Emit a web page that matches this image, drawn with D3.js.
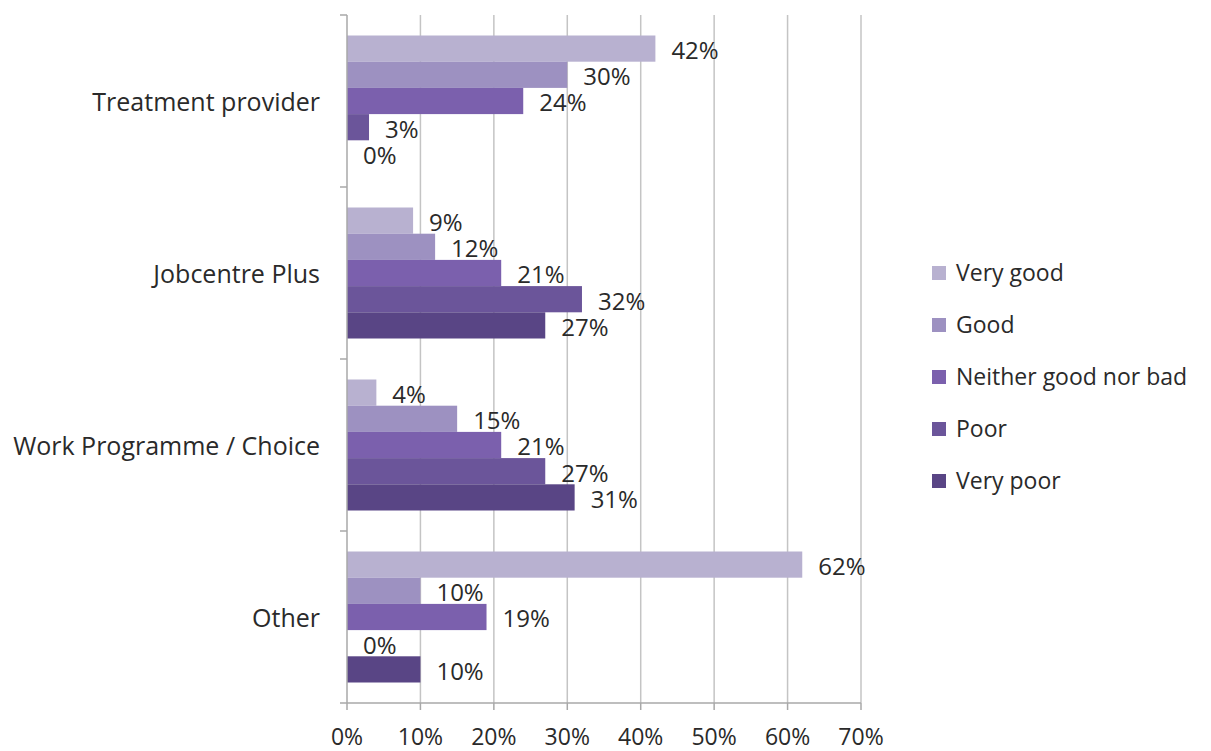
<!DOCTYPE html>
<html>
<head>
<meta charset="utf-8">
<script src="https://cdn.jsdelivr.net/npm/d3@7"></script>
<style>
  html, body { margin: 0; padding: 0; background: #fff; }
  svg text { font-family: "Open Sans", sans-serif; fill: #2a2a2a; }
</style>
</head>
<body>
<svg id="chart" width="1211" height="751"></svg>
<script>
const categories = ["Treatment provider", "Jobcentre Plus", "Work Programme / Choice", "Other"];
const seriesNames = ["Very good", "Good", "Neither good nor bad", "Poor", "Very poor"];
const veryGood = [42, 9, 4, 62];
const good = [30, 12, 15, 10];
const neither = [24, 21, 21, 19];
const poor = [3, 32, 27, 0];
const veryPoor = [0, 27, 31, 10];
const xTicks = [0, 10, 20, 30, 40, 50, 60, 70];
const xTickLabels = ["0%", "10%", "20%", "30%", "40%", "50%", "60%", "70%"];
const colors = ["#b8b1d0", "#9d91c1", "#7b60ad", "#6b559a", "#594585"];

const seriesValues = [veryGood, good, neither, poor, veryPoor];

(function () {
const svg = d3.select("#chart");
const plotLeft = 347, plotRight = 861, plotTop = 15, plotBottom = 703;

const x = d3.scaleLinear().domain([0, 70]).range([plotLeft, plotRight]);
const y = d3.scaleBand().domain(categories).range([plotTop, plotBottom]).padding(0);
const bandH = y.bandwidth();
const yInner = d3.scaleBand().domain(seriesNames).range([20.5, bandH - 20.5]).padding(0);

// gridlines
svg.append("g").selectAll("line").data(xTicks.slice(1)).join("line")
  .attr("x1", d => x(d)).attr("x2", d => x(d))
  .attr("y1", plotTop).attr("y2", plotBottom)
  .attr("stroke", "#c4c4c4").attr("stroke-width", 1.5);

// bars
const catG = svg.append("g").selectAll("g").data(categories).join("g")
  .attr("transform", c => `translate(0,${y(c)})`);

catG.each(function(c, ci) {
  const g = d3.select(this);
  seriesNames.forEach((s, si) => {
    const v = seriesValues[si][ci];
    g.append("rect")
      .attr("x", x(0))
      .attr("y", yInner(s))
      .attr("width", x(v) - x(0))
      .attr("height", yInner.bandwidth())
      .attr("fill", colors[si]);
    g.append("text")
      .attr("x", x(v) + 16)
      .attr("y", yInner(s) + yInner.bandwidth() / 2 + 2)
      .attr("dy", "0.35em")
      .attr("font-size", 24)
      .text(v + "%");
  });
});

// y axis
const yAxisG = svg.append("g");
yAxisG.append("line")
  .attr("x1", plotLeft).attr("x2", plotLeft).attr("y1", plotTop).attr("y2", plotBottom)
  .attr("stroke", "#a8a8a8").attr("stroke-width", 1.5);
const boundaries = categories.map(c => y(c)).concat([plotBottom]);
yAxisG.selectAll("line.tick").data(boundaries).join("line")
  .attr("class", "tick")
  .attr("x1", plotLeft - 7).attr("x2", plotLeft).attr("y1", d => d).attr("y2", d => d)
  .attr("stroke", "#a8a8a8").attr("stroke-width", 1.5);
yAxisG.selectAll("text").data(categories).join("text")
  .attr("x", 320)
  .attr("y", c => y(c) + bandH / 2 + 1)
  .attr("dy", "0.35em")
  .attr("text-anchor", "end")
  .attr("font-size", 25)
  .text(c => c);

// x axis
const xAxisG = svg.append("g");
xAxisG.append("line")
  .attr("x1", plotLeft).attr("x2", plotRight).attr("y1", plotBottom).attr("y2", plotBottom)
  .attr("stroke", "#a8a8a8").attr("stroke-width", 1.5);
xAxisG.selectAll("line.tick").data(xTicks).join("line")
  .attr("class", "tick")
  .attr("x1", d => x(d)).attr("x2", d => x(d)).attr("y1", plotBottom).attr("y2", plotBottom + 7)
  .attr("stroke", "#a8a8a8").attr("stroke-width", 1.5);
xAxisG.selectAll("text").data(xTicks).join("text")
  .attr("x", d => x(d))
  .attr("y", 737)
  .attr("dy", "0.35em")
  .attr("text-anchor", "middle")
  .attr("font-size", 23)
  .text((d, i) => xTickLabels[i]);

// legend
const legend = svg.append("g");
const legY = d3.scaleLinear().domain([0, 4]).range([273, 481]);
seriesNames.forEach((s, i) => {
  legend.append("rect")
    .attr("x", 932).attr("y", legY(i) - 7)
    .attr("width", 14).attr("height", 14)
    .attr("fill", colors[i]);
  legend.append("text")
    .attr("x", 956).attr("y", legY(i))
    .attr("dy", "0.35em")
    .attr("font-size", 23)
    .text(s);
});
})();
</script>
</body>
</html>
